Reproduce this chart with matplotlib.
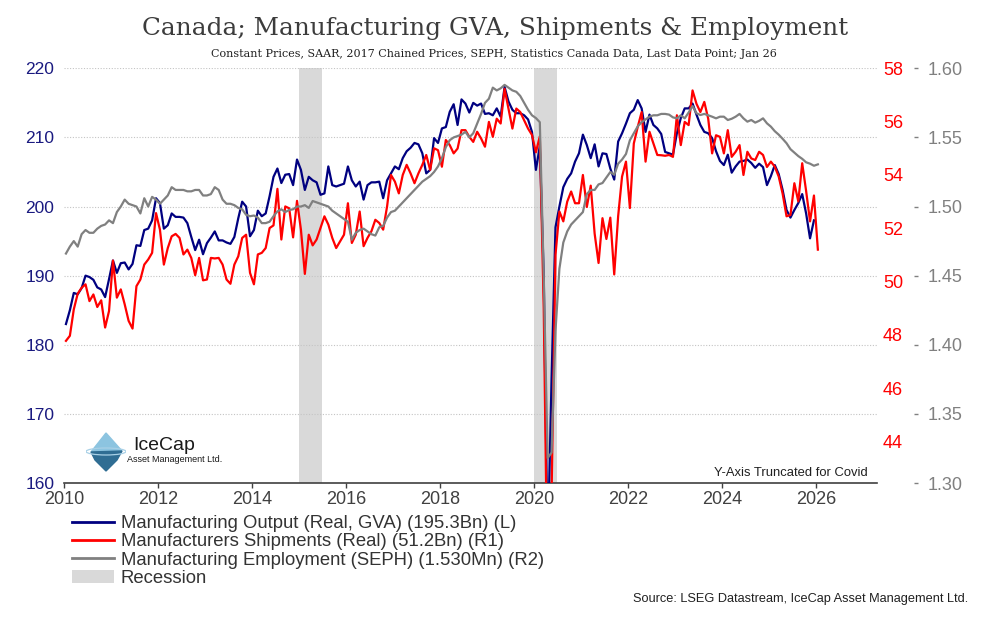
import matplotlib
matplotlib.use("Agg")
import matplotlib.pyplot as plt
import numpy as np
from matplotlib.lines import Line2D
from matplotlib.patches import Patch, Polygon, Ellipse

# monthly values, Jan 2010 onwards
gva_output = [  # Bn, left axis (ends Dec 2025)
    183.0, 185.0, 187.5, 187.3, 188.2, 190.0, 189.8, 189.4, 188.3, 188.0, 186.9, 189.5,
    192.2, 190.4, 191.8, 191.9, 190.9, 191.7, 194.4, 194.3, 196.6, 196.8, 198.0, 201.2,
    200.5, 196.8, 197.3, 199.0, 198.5, 198.5, 198.4, 197.6, 195.6, 193.7, 195.2, 193.1,
    194.7, 195.5, 196.4, 195.1, 195.1, 194.8, 194.6, 195.6, 198.3, 200.7, 200.0, 195.7,
    196.6, 199.4, 198.6, 199.0, 201.5, 204.3, 205.5, 203.4, 204.6, 204.7, 203.1, 206.8,
    205.3, 202.4, 204.3, 203.8, 203.5, 201.7, 201.9, 205.8, 203.1, 202.9, 203.1, 203.3,
    205.8, 203.8, 202.9, 203.6, 201.0, 203.1, 203.5, 203.5, 203.6, 201.2, 203.8, 204.8,
    205.8, 205.4, 207.0, 208.0, 208.5, 209.2, 209.0, 207.7, 204.8, 205.3, 209.9, 209.2,
    211.3, 211.5, 213.7, 214.8, 211.8, 215.5, 214.9, 213.6, 215.0, 214.6, 214.9, 213.4,
    213.5, 213.2, 214.2, 213.0, 217.3, 215.2, 214.0, 213.5, 213.5, 213.2, 212.6, 210.8,
    205.3, 208.7, 190.0, 150.0, 175.0, 197.0, 200.0, 202.8, 204.0, 204.8, 206.5, 207.7,
    210.4, 208.9, 207.0, 209.0, 205.8, 207.7, 207.6, 205.5, 203.9, 209.4, 210.6, 212.0,
    213.5, 214.0, 215.4, 214.2, 210.8, 213.3, 211.8, 211.3, 210.5, 207.9, 207.7, 207.5,
    210.6, 212.8, 214.2, 214.2, 214.9, 213.3, 211.8, 210.8, 210.6, 209.9, 208.0, 206.6,
    206.0, 207.5, 204.9, 205.8, 206.5, 206.6, 206.8, 206.3, 205.6, 206.2, 205.7, 203.1,
    204.4, 206.0, 204.7, 202.4, 199.5, 198.4, 199.5, 200.5, 201.8, 199.0, 195.4, 198.0,
]
shipments = [  # Bn, right axis 1 (ends Jan 2026)
    47.78, 47.97, 48.96, 49.55, 49.77, 49.90, 49.27, 49.52, 49.05, 49.30, 48.28, 48.90,
    50.79, 49.40, 49.71, 49.15, 48.53, 48.24, 49.83, 50.08, 50.64, 50.83, 51.08, 52.57,
    51.95, 50.64, 51.26, 51.70, 51.79, 51.64, 51.02, 51.20, 50.89, 50.24, 50.89, 50.05,
    50.08, 50.89, 50.87, 50.89, 50.64, 50.08, 49.92, 50.64, 50.95, 51.64, 51.76, 50.33,
    49.90, 51.02, 51.08, 51.26, 52.01, 52.11, 53.48, 51.58, 52.82, 52.75, 51.66, 53.03,
    51.95, 50.29, 51.76, 51.36, 51.58, 52.01, 52.45, 52.14, 51.64, 51.26, 51.51, 51.76,
    52.94, 51.45, 51.76, 52.63, 51.33, 51.64, 51.89, 52.32, 52.20, 51.95, 52.82, 54.00,
    53.75, 53.31, 54.00, 54.38, 54.06, 53.69, 54.06, 54.38, 54.75, 54.19, 55.00, 54.93,
    54.31, 55.31, 55.12, 54.81, 54.99, 55.68, 55.68, 55.43, 55.24, 55.62, 55.37, 55.06,
    55.99, 55.43, 56.11, 55.93, 57.23, 56.49, 55.74, 56.49, 56.36, 56.05, 55.74, 55.50,
    54.85, 55.45, 49.00, 38.00, 42.00, 51.00, 52.63, 52.26, 53.00, 53.38, 52.94, 52.94,
    54.00, 52.80, 53.60, 51.80, 50.70, 52.38, 51.60, 52.40, 50.27, 52.45, 53.94, 54.50,
    52.76, 55.18, 55.80, 56.36, 54.50, 55.62, 55.18, 54.75, 54.74, 54.72, 54.75, 54.68,
    56.24, 55.12, 55.99, 55.87, 57.17, 56.67, 56.36, 56.74, 56.11, 54.81, 55.49, 55.43,
    54.81, 55.68, 54.68, 54.87, 55.12, 54.00, 54.87, 54.62, 54.56, 54.87, 54.75, 54.30,
    54.50, 54.31, 53.94, 53.30, 52.45, 52.50, 53.69, 53.01, 54.44, 53.40, 52.26, 53.23,
    51.20,
]
employment = [  # Mn, right axis 2 (ends Jan 2026)
    1.466, 1.471, 1.475, 1.471, 1.480, 1.483, 1.481, 1.481, 1.484, 1.486, 1.487, 1.490,
    1.488, 1.496, 1.500, 1.505, 1.502, 1.501, 1.500, 1.495, 1.506, 1.500, 1.507, 1.505,
    1.502, 1.505, 1.508, 1.514, 1.512, 1.512, 1.512, 1.511, 1.511, 1.512, 1.512, 1.508,
    1.508, 1.509, 1.514, 1.512, 1.505, 1.502, 1.502, 1.501, 1.499, 1.498, 1.494, 1.493,
    1.4935, 1.492, 1.488, 1.488, 1.489, 1.493, 1.4965, 1.498, 1.496, 1.4975, 1.498, 1.500,
    1.500, 1.501, 1.499, 1.504, 1.503, 1.502, 1.501, 1.500, 1.497, 1.495, 1.493, 1.491,
    1.489, 1.476, 1.481, 1.483, 1.484, 1.482, 1.480, 1.479, 1.485, 1.486, 1.492, 1.496,
    1.497, 1.500, 1.503, 1.506, 1.509, 1.512, 1.515, 1.518, 1.520, 1.522, 1.525, 1.529,
    1.535, 1.543, 1.548, 1.550, 1.551, 1.552, 1.554, 1.550, 1.553, 1.560, 1.567, 1.575,
    1.578, 1.586, 1.584, 1.5855, 1.588, 1.586, 1.584, 1.583, 1.580, 1.575, 1.570, 1.566,
    1.564, 1.561, 1.450, 1.318, 1.322, 1.410, 1.455, 1.474, 1.482, 1.487, 1.490, 1.493,
    1.496, 1.509, 1.512, 1.512, 1.516, 1.517, 1.521, 1.525, 1.523, 1.531, 1.534, 1.538,
    1.548, 1.553, 1.558, 1.561, 1.563, 1.565, 1.566, 1.566, 1.567, 1.567, 1.5665, 1.5645,
    1.5638, 1.566, 1.5638, 1.568, 1.5727, 1.5675, 1.5662, 1.567, 1.566, 1.565, 1.5638, 1.565,
    1.565, 1.5626, 1.5635, 1.565, 1.567, 1.5638, 1.5614, 1.5626, 1.5607, 1.562, 1.5638, 1.5602,
    1.5578, 1.5545, 1.552, 1.549, 1.5458, 1.5415, 1.539, 1.5365, 1.5345, 1.532, 1.531, 1.5295,
    1.5305,
]

recessions = [(2015.0, 2015.5), (2020.0, 2020.5)]
year_ticks = list(range(2010, 2027, 2))
left_ticks = [160, 170, 180, 190, 200, 210, 220]
r1_ticks = [44, 46, 48, 50, 52, 54, 56, 58]
r2_ticks = [1.30, 1.35, 1.40, 1.45, 1.50, 1.55, 1.60]

labels = ["Manufacturing Output (Real, GVA) (195.3Bn) (L)",
          "Manufacturers Shipments (Real) (51.2Bn) (R1)",
          "Manufacturing Employment (SEPH) (1.530Mn) (R2)",
          "Recession"]

NAVY, RED, GREY, BAND = "#000080", "#ff0000", "#808080", "#d9d9d9"
SANS = "Liberation Sans"


def months(n):
    # mid-month positions in decimal years
    return 2010 + (np.arange(n) + 0.5) / 12


fig = plt.figure(figsize=(9.96, 6.21), dpi=100)
ax = fig.add_axes([64 / 996, 1 - 483 / 621, 813 / 996, 414.7 / 621])

for a, b in recessions:
    ax.axvspan(a, b, color=BAND, lw=0, zorder=0)
ax.plot(months(len(gva_output)), gva_output, color=NAVY, lw=1.6, zorder=3)

ax.set_xlim(2010, 2027.3)
ax.set_ylim(160, 220)
ax.set_xticks(year_ticks)
ax.set_yticks(left_ticks)
ax.yaxis.grid(True, linestyle=(0, (1, 1.5)), color="#c4c4c4", lw=0.8, zorder=1)
ax.set_axisbelow(True)
for s in ["top", "left", "right"]:
    ax.spines[s].set_visible(False)
ax.spines["bottom"].set_color("#404040")
ax.spines["bottom"].set_linewidth(1.2)
ax.tick_params(axis="x", length=3.5, width=1, color="#404040", pad=2.5,
               labelsize=13, labelcolor="#404040")
ax.tick_params(axis="y", length=0, pad=7, labelsize=12.5, labelcolor="#1a1a80")
for t in ax.get_xticklabels() + ax.get_yticklabels():
    t.set_family(SANS)

ax1 = ax.twinx()
ax1.plot(months(len(shipments)), shipments, color=RED, lw=1.6)
ax1.set_ylim(42.45, 57.92)
ax1.set_yticks(r1_ticks)
ax1.tick_params(axis="y", length=0, pad=4.3, labelsize=13, labelcolor=RED)

ax2 = ax.twinx()
ax2.plot(months(len(employment)), employment, color=GREY, lw=1.6)
ax2.set_ylim(1.30, 1.60)
ax2.set_yticks(r2_ticks)
ax2.set_yticklabels([f"{v:.2f}" for v in r2_ticks])
ax2.spines["right"].set_position(("axes", 1.0455))
ax2.tick_params(axis="y", length=3, width=1, color=GREY, pad=6.5,
                labelsize=13, labelcolor=GREY)

for a in (ax1, ax2):
    for s in a.spines.values():
        s.set_visible(False)
    for t in a.get_yticklabels():
        t.set_family(SANS)

# titles
fig.text(0.497, 1 - 29 / 621, "Canada; Manufacturing GVA, Shipments & Employment",
         ha="center", va="center", fontsize=17.8, family="DejaVu Serif", color="#3c3c3c")
fig.text(0.496, 1 - 54 / 621,
         "Constant Prices, SAAR, 2017 Chained Prices, SEPH, Statistics Canada Data, Last Data Point; Jan 26",
         ha="center", va="center", fontsize=8.05, family="DejaVu Serif", color="#202020")

fig.text(868 / 996, 1 - 473 / 621, "Y-Axis Truncated for Covid", ha="right", va="center",
         fontsize=9.4, family=SANS, color="#202020")

# logo
logo = fig.add_axes([86 / 996, 1 - 472 / 621, 40 / 996, 40 / 621])
logo.set_xlim(0, 40)
logo.set_ylim(0, 40)
logo.axis("off")
logo.add_patch(Polygon([[5, 20], [20, 39], [36, 21]], color="#8cc4e0"))
logo.add_patch(Polygon([[5, 20], [36, 21], [31, 12], [20, 1], [9, 12]], color="#2f6d93"))
logo.add_patch(Ellipse((20, 20.5), 40, 7, fill=False, ec="#a8d0e6", lw=0.9))
fig.text(133 / 996, 1 - 446 / 621, "IceCap", ha="left", va="center",
         fontsize=14, family=SANS, color="#1a1a1a")
fig.text(127 / 996, 1 - 460 / 621, "Asset Management Ltd.", ha="left", va="center",
         fontsize=6.5, family=SANS, color="#1a1a1a")

# legend
handles = [Line2D([], [], color=NAVY, lw=2),
           Line2D([], [], color=RED, lw=2),
           Line2D([], [], color=GREY, lw=2),
           Patch(facecolor=BAND, edgecolor="none")]
fig.legend(handles, labels, loc="upper left", bbox_to_anchor=(72 / 996, 1 - 515 / 621),
           frameon=False, borderpad=0, borderaxespad=0, handlelength=2.3,
           handletextpad=0.35, labelspacing=0.07, labelcolor="#333333",
           prop={"family": SANS, "size": 13.3})

fig.text(968 / 996, 1 - 599 / 621, "Source: LSEG Datastream, IceCap Asset Management Ltd.",
         ha="right", va="center", fontsize=9.2, family=SANS, color="#202020")

fig.savefig("out.png", dpi=100)
